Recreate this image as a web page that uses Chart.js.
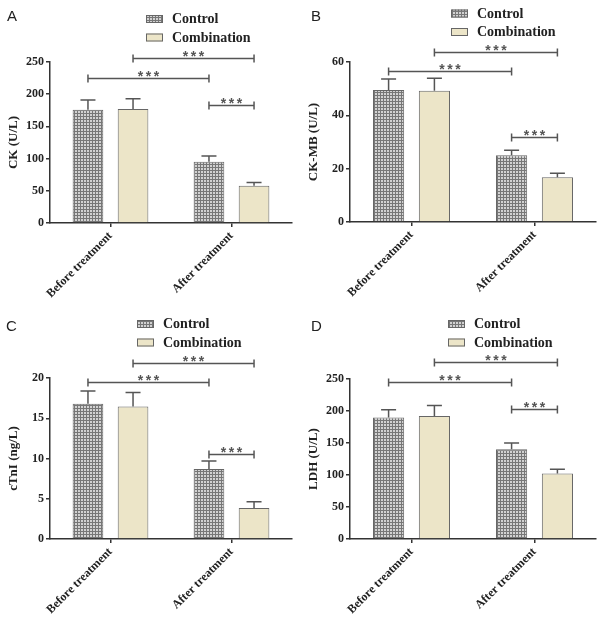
<!DOCTYPE html>
<html>
<head>
<meta charset="utf-8">
<script src="https://cdn.jsdelivr.net/npm/chart.js@4/dist/chart.umd.min.js"></script>
<style>
  html, body { margin: 0; padding: 0; background: #ffffff; }
  #wrap { position: relative; width: 600px; height: 619px; overflow: hidden; }
  .panel { position: absolute; }
</style>
</head>
<body>
<div id="wrap">
  <div class="panel" style="left:0;top:0"><canvas id="chartA" width="300" height="310"></canvas></div>
  <div class="panel" style="left:300px;top:0"><canvas id="chartB" width="300" height="310"></canvas></div>
  <div class="panel" style="left:0;top:310px"><canvas id="chartC" width="300" height="309"></canvas></div>
  <div class="panel" style="left:300px;top:310px"><canvas id="chartD" width="300" height="309"></canvas></div>
</div>
<script>
// Shared labels
const categories = ['Before treatment', 'After treatment'];
const seriesNames = ['Control', 'Combination'];

// A: CK (U/L)
const ckControl = [176, 95];
const ckControlErr = [15, 9];
const ckCombination = [177, 58];
const ckCombinationErr = [16, 5];
const ckTicks = [0, 50, 100, 150, 200, 250];
const ckBrackets = [225, 256, 183];

// B: CK-MB (U/L)
const ckmbControl = [49.5, 25];
const ckmbControlErr = [4.1, 1.9];
const ckmbCombination = [49.2, 16.8];
const ckmbCombinationErr = [4.7, 1.5];
const ckmbTicks = [0, 20, 40, 60];
const ckmbBrackets = [56.6, 63.9, 32];

// C: cTnI (ng/L)
const ctniControl = [16.8, 8.7];
const ctniControlErr = [1.6, 1.0];
const ctniCombination = [16.45, 3.84];
const ctniCombinationErr = [1.75, 0.8];
const ctniTicks = [0, 5, 10, 15, 20];
const ctniBrackets = [19.5, 21.9, 10.5];

// D: LDH (U/L)
const ldhControl = [189.7, 140.3];
const ldhControlErr = [12.3, 9.7];
const ldhCombination = [192.3, 102.4];
const ldhCombinationErr = [16.1, 6.6];
const ldhTicks = [0, 50, 100, 150, 200, 250];
const ldhBrackets = [245, 277, 202.7];

// which bars each significance bracket joins: [dataset, category]
const bracketPairs = [
    [[0, 0], [0, 1]],
    [[1, 0], [1, 1]],
    [[0, 1], [1, 1]]
];

const serif = "'Liberation Serif', 'Times New Roman', serif";
const sans = "'Liberation Sans', Arial, sans-serif";
const axisColor = '#333333';
const markColor = '#555555';
const creamColor = '#ece5c8';

// Panel layout (chart area edges, legend & letter spots)
const panels = [
    { canvas: 'chartA', letter: 'A', title: 'CK (U/L)', control: ckControl, controlErr: ckControlErr,
      combination: ckCombination, combinationErr: ckCombinationErr, ticks: ckTicks, brackets: ckBrackets,
      area: { left: 50, right: 292, top: 62, bottom: 223 }, legend: { x: 146, y: 15 }, letterPos: { x: 7, y: 9 } },
    { canvas: 'chartB', letter: 'B', title: 'CK-MB (U/L)', control: ckmbControl, controlErr: ckmbControlErr,
      combination: ckmbCombination, combinationErr: ckmbCombinationErr, ticks: ckmbTicks, brackets: ckmbBrackets,
      area: { left: 50, right: 296, top: 62, bottom: 222 }, legend: { x: 151, y: 9.5 }, letterPos: { x: 11, y: 9 } },
    { canvas: 'chartC', letter: 'C', title: 'cTnI (ng/L)', control: ctniControl, controlErr: ctniControlErr,
      combination: ctniCombination, combinationErr: ctniCombinationErr, ticks: ctniTicks, brackets: ctniBrackets,
      area: { left: 50, right: 292, top: 68, bottom: 229 }, legend: { x: 137, y: 10 }, letterPos: { x: 6, y: 9 } },
    { canvas: 'chartD', letter: 'D', title: 'LDH (U/L)', control: ldhControl, controlErr: ldhControlErr,
      combination: ldhCombination, combinationErr: ldhCombinationErr, ticks: ldhTicks, brackets: ldhBrackets,
      area: { left: 50, right: 296, top: 69, bottom: 229 }, legend: { x: 148, y: 10 }, letterPos: { x: 11, y: 9 } }
];

// fine grey grid fill for the Control bars (light squares, dark lines)
function makeCheckPattern(ctx) {
    const tile = document.createElement('canvas');
    tile.width = 3;
    tile.height = 3;
    const g = tile.getContext('2d');
    g.fillStyle = '#777777';
    g.fillRect(0, 0, 3, 3);
    g.fillStyle = '#d2d2d2';
    g.fillRect(0, 0, 2, 2);
    return ctx.createPattern(tile, 'repeat');
}

// error bars, brackets, legend and panel letter
const extrasPlugin = {
    id: 'extras',
    afterDatasetsDraw(chart) {
        const ctx = chart.ctx;
        const y = chart.scales.y;
        ctx.save();
        ctx.strokeStyle = markColor;
        ctx.lineWidth = 1.5;
        chart.data.datasets.forEach((ds, i) => {
            const meta = chart.getDatasetMeta(i);
            meta.data.forEach((bar, j) => {
                const top = y.getPixelForValue(ds.data[j] + ds.errors[j]);
                ctx.beginPath();
                ctx.moveTo(bar.x, bar.y);
                ctx.lineTo(bar.x, top);
                ctx.moveTo(bar.x - 7.5, top);
                ctx.lineTo(bar.x + 7.5, top);
                ctx.stroke();
            });
        });
        ctx.restore();
    },
    afterDraw(chart) {
        const ctx = chart.ctx;
        const p = chart.options.panel;
        const y = chart.scales.y;
        ctx.save();

        // significance brackets
        ctx.strokeStyle = markColor;
        ctx.fillStyle = markColor;
        ctx.lineWidth = 1.5;
        ctx.font = 'bold 14px ' + sans;
        ctx.textAlign = 'center';
        ctx.textBaseline = 'alphabetic';
        bracketPairs.forEach((pair, k) => {
            const x1 = chart.getDatasetMeta(pair[0][0]).data[pair[0][1]].x;
            const x2 = chart.getDatasetMeta(pair[1][0]).data[pair[1][1]].x;
            const by = Math.round(y.getPixelForValue(p.brackets[k])) + 0.5;
            ctx.beginPath();
            ctx.moveTo(x1, by);
            ctx.lineTo(x2, by);
            ctx.moveTo(x1, by - 4);
            ctx.lineTo(x1, by + 4);
            ctx.moveTo(x2, by - 4);
            ctx.lineTo(x2, by + 4);
            ctx.stroke();
            const cx = (x1 + x2) / 2;
            [-8, 0, 8].forEach(dx => ctx.fillText('*', cx + dx, by + 2));
        });

        // legend
        ctx.font = 'bold 14px ' + serif;
        ctx.textAlign = 'left';
        ctx.textBaseline = 'middle';
        chart.data.datasets.forEach((ds, i) => {
            const sx = p.legend.x;
            const sy = p.legend.y + i * 18.5;
            ctx.fillStyle = ds.backgroundColor;
            ctx.fillRect(sx, sy, 17, 8);
            ctx.strokeStyle = '#666666';
            ctx.lineWidth = 1;
            ctx.strokeRect(sx + 0.5, sy + 0.5, 16, 7);
            ctx.fillStyle = '#222222';
            ctx.fillText(ds.label, sx + 26, sy + 4.5);
        });

        // panel letter
        ctx.font = '15px ' + sans;
        ctx.textBaseline = 'top';
        ctx.fillStyle = '#222222';
        ctx.fillText(p.letter, p.letterPos.x, p.letterPos.y);
        ctx.restore();
    }
};

function makePanel(p) {
    const canvas = document.getElementById(p.canvas);
    const ctx = canvas.getContext('2d');
    const W = canvas.width;
    const H = canvas.height;
    const tickFont = { family: serif, weight: 'bold', size: 12 };

    return new Chart(ctx, {
        type: 'bar',
        data: {
            labels: categories,
            datasets: [
                {
                    label: seriesNames[0],
                    data: p.control,
                    errors: p.controlErr,
                    backgroundColor: makeCheckPattern(ctx),
                    borderColor: '#666666',
                    borderWidth: 1
                },
                {
                    label: seriesNames[1],
                    data: p.combination,
                    errors: p.combinationErr,
                    backgroundColor: creamColor,
                    borderColor: '#666666',
                    borderWidth: 1
                }
            ]
        },
        options: {
            panel: p,
            responsive: false,
            animation: false,
            events: [],
            layout: { padding: { top: p.area.top, right: W - p.area.right, left: 0, bottom: 0 } },
            datasets: { bar: { categoryPercentage: 0.745, barPercentage: 0.68 } },
            plugins: {
                legend: { display: false },
                tooltip: { enabled: false }
            },
            scales: {
                x: {
                    grid: { offset: false, drawOnChartArea: false, tickLength: 4, color: axisColor, lineWidth: 1.5 },
                    border: { color: axisColor, width: 1.5 },
                    ticks: { minRotation: 45, maxRotation: 45, padding: 2, color: '#222222', font: tickFont },
                    afterFit: s => { s.height = H - p.area.bottom; }
                },
                y: {
                    min: p.ticks[0],
                    max: p.ticks[p.ticks.length - 1],
                    afterBuildTicks: s => { s.ticks = p.ticks.map(v => ({ value: v })); },
                    grid: { drawOnChartArea: false, tickLength: 4, color: axisColor, lineWidth: 1.5 },
                    border: { color: axisColor, width: 1.5 },
                    ticks: { padding: 2, color: '#222222', font: tickFont },
                    title: {
                        display: true,
                        text: p.title,
                        color: '#222222',
                        font: { family: serif, weight: 'bold', size: 13 },
                        padding: { top: 6, bottom: 0 }
                    },
                    afterFit: s => { s.width = p.area.left; }
                }
            }
        },
        plugins: [extrasPlugin]
    });
}

const charts = panels.map(makePanel);
</script>
</body>
</html>
